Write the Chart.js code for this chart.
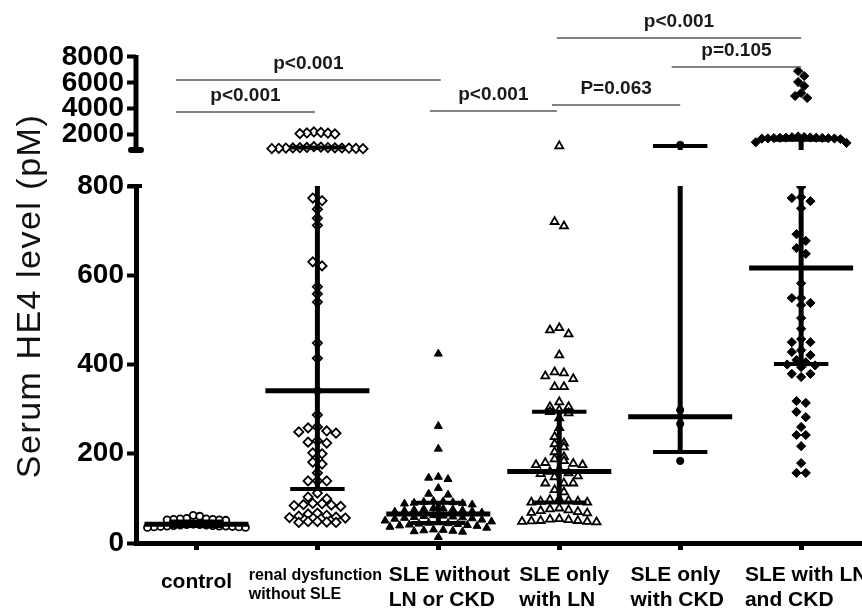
<!DOCTYPE html>
<html><head><meta charset="utf-8">
<script src="https://cdn.jsdelivr.net/npm/chart.js@4"></script>
<style>
html,body{margin:0;padding:0;background:#fff;overflow:hidden;}
#wrap{position:relative;width:868px;height:612px;}
</style></head>
<body><div id="wrap"><canvas id="c"></canvas></div>
<script>
// ---------- DATA ----------
const categories = [["control"],["renal dysfunction","without SLE"],["SLE without","LN or CKD"],["SLE only","with LN"],["SLE only","with CKD"],["SLE with LN","and CKD"]];
const lowerTicks = [0,200,400,600,800];
const upperTicks = [2000,4000,6000,8000];
const yTitle = "Serum HE4 level (pM)";

// values in the 0-800 segment (pM)
const controlLow = [62,60,55,54,54,53,53,52,52,51,42,41,41,40,40,39,39,38,38,38,37,37,36,36,35,35];
const renalLow = [773,767,748,728,712,630,621,574,558,540,448,414,341,287,260,258,251,249,246,229,226,224,202,200,181,177,157,139,139,139,112,103,99,89,88,86,85,84,82,67,65,62,60,58,57,56,48,48,47,46,46];
const sleNoLnLow = [424,262,211,148,146,143,123,110,108,94,93,92,91,90,89,88,86,78,77,76,75,74,73,72,71,70,68,62,61,60,59,58,57,56,55,54,52,50,48,46,45,44,43,42,41,40,39,38,36,34,30,29,28,27,26,25,13];
const sleLnLow = [720,710,482,477,468,421,383,381,374,368,350,350,316,305,305,298,294,291,280,258,238,224,222,215,204,193,188,184,180,178,175,175,165,160,157,155,150,148,134,134,134,119,114,99,97,95,93,93,91,91,78,76,74,72,70,68,67,54,53,52,50,50,49,48,48,47];
const sleCkdLow = [298,267,184];
const sleLnCkdLow = [798,775,773,766,750,692,677,661,648,582,549,549,538,533,504,480,457,450,450,432,428,421,410,405,400,398,394,379,379,372,318,314,294,282,260,242,242,217,179,157,157];

// values in the upper (800-8000) segment (pM)
const controlHigh = [];
const renalHigh = [2200,2160,2120,2100,2070,2040,1060,1020,1000,990,980,970,960,955,950,940,930,920,910,900];
const sleNoLnHigh = [];
const sleLnHigh = [1110];
const sleCkdHigh = [1200];
const sleLnCkdHigh = [6915,6528,6063,5754,5212,4980,4825,1850,1800,1790,1770,1760,1750,1740,1730,1720,1710,1700,1690,1680,1650,1400,1350];

// summary lines (central value and whiskers)
const centerLine = [42,341,65,160,283,616];
const lowerWhisker = [38,121,45,91,204,401];
const upperWhisker = [48,1000,90,294,1110,1600];

// significance comparisons
const pLabels = ["p<0.001","p<0.001","p<0.001","P=0.063","p=0.105","p<0.001"];
const pFrom = [-0.17,-0.17,1.93,2.94,3.93,2.98];
const pTo = [2.02,0.98,2.98,4.0,5.0,5.0];
const pLevel = [6218,3741,3819,4283,7224,9469];

// ---------- STYLE ----------
const FONT = "'Liberation Sans', Arial, Helvetica, sans-serif";
const lowGroups = [controlLow,renalLow,sleNoLnLow,sleLnLow,sleCkdLow,sleLnCkdLow];
const highGroups = [controlHigh,renalHigh,sleNoLnHigh,sleLnHigh,sleCkdHigh,sleLnCkdHigh];
const markers = [
  {style:'circle', r:3.5, fill:'#fff', bw:1.8},
  {style:'rectRot', r:4.6, fill:'#fff', bw:1.8},
  {style:'triangle', r:4.6, fill:'#000', bw:1},
  {style:'triangle', r:4.6, fill:'#fff', bw:1.8},
  {style:'circle', r:3.6, fill:'#000', bw:1},
  {style:'rectRot', r:4.6, fill:'#000', bw:1}
];
const lowSpacing = [0.054,0.077,0.08,0.077,0.077,0.077];
const highSpacing = [0.058,0.058,0.058,0.058,0.058,0.05];
const LOW_ROW = 16, HIGH_ROW = 650;
const BREAK = 800;
const LONG_HALF = 0.43, CAP_HALF = 0.225;
// x label layout (size, line height, first-line offset below the axis, horizontal nudge)
const labelStyle = [
  {size:21, lh:25, off:39, dx:0},
  {size:16, lh:19, off:33, dx:-2},
  {size:21, lh:25, off:32, dx:11},
  {size:21, lh:25, off:32, dx:5},
  {size:21, lh:25, off:32, dx:-3},
  {size:21, lh:25, off:32, dx:5}
];

function swarm(values, cat, threshold, spacing){
  const sorted = [...values].sort((a,b)=>b-a);
  const rows = []; let cur = null;
  for (const v of sorted){
    if (!cur || cur.start - v >= threshold){ cur = {start:v, vals:[]}; rows.push(cur); }
    cur.vals.push(v);
  }
  const pts = [];
  rows.forEach(r=>{
    const n = r.vals.length;
    const slots = [];
    for (let j=0;j<n;j++) slots.push(j-(n-1)/2);
    slots.sort((a,b)=>Math.abs(a)-Math.abs(b) || a-b);
    r.vals.forEach((v,k)=>pts.push({x:cat+slots[k]*spacing, y:v}));
  });
  return pts;
}

const datasets = [];
function seg(data, axis, width, color){
  datasets.push({type:'scatter', data, yAxisID:axis, showLine:true, borderColor:color||'#000',
    borderWidth:width, pointRadius:0, pointHoverRadius:0, fill:false, tension:0, order:1, borderCapStyle:'butt'});
}
categories.forEach((c,i)=>{
  const m = markers[i];
  [['y', swarm(lowGroups[i], i, LOW_ROW, lowSpacing[i])], ['y2', swarm(highGroups[i], i, HIGH_ROW, highSpacing[i])]].forEach(([ax,pts])=>{
    if (!pts.length) return;
    datasets.push({type:'scatter', data:pts, yAxisID:ax, showLine:false, pointStyle:m.style, pointRadius:m.r,
      pointHoverRadius:m.r, pointBackgroundColor:m.fill, pointBorderColor:'#000', pointBorderWidth:m.bw, order:2});
  });
  seg([{x:i-LONG_HALF,y:centerLine[i]},{x:i+LONG_HALF,y:centerLine[i]}],'y',5);
  seg([{x:i-CAP_HALF,y:lowerWhisker[i]},{x:i+CAP_HALF,y:lowerWhisker[i]}],'y',4);
  if (upperWhisker[i] <= BREAK){
    seg([{x:i,y:lowerWhisker[i]},{x:i,y:upperWhisker[i]}],'y',5);
    seg([{x:i-CAP_HALF,y:upperWhisker[i]},{x:i+CAP_HALF,y:upperWhisker[i]}],'y',4);
  } else {
    seg([{x:i,y:lowerWhisker[i]},{x:i,y:BREAK}],'y',5);
    seg([{x:i,y:BREAK},{x:i,y:upperWhisker[i]}],'y2',5);
    seg([{x:i-CAP_HALF,y:upperWhisker[i]},{x:i+CAP_HALF,y:upperWhisker[i]}],'y2',4);
  }
});
pLabels.forEach((l,k)=>{
  seg([{x:pFrom[k],y:pLevel[k]},{x:pTo[k],y:pLevel[k]}],'y2',1.6,'#5a5a5a');
});

const decorPlugin = {
  id:'decor',
  afterDraw(chart){
    const ctx = chart.ctx, xs = chart.scales.x, y = chart.scales.y, y2 = chart.scales.y2;
    const left = chart.chartArea.left, bottom = chart.chartArea.bottom;
    ctx.save();
    // upper axis line
    ctx.strokeStyle = '#000'; ctx.lineWidth = 5; ctx.lineCap = 'butt';
    ctx.beginPath(); ctx.moveTo(left, y2.getPixelForValue(BREAK)); ctx.lineTo(left, y2.getPixelForValue(upperTicks[upperTicks.length-1]) - 2); ctx.stroke();
    // break caps
    ctx.lineWidth = 6; ctx.lineCap = 'round';
    ctx.beginPath(); ctx.moveTo(left-5, y2.getPixelForValue(BREAK)); ctx.lineTo(left+5, y2.getPixelForValue(BREAK)); ctx.stroke();
    ctx.lineWidth = 4; ctx.lineCap = 'butt';
    ctx.beginPath(); ctx.moveTo(left-8, y.getPixelForValue(BREAK)); ctx.lineTo(left+6, y.getPixelForValue(BREAK)); ctx.stroke();
    // category labels: left-aligned lines, block centred under the tick
    ctx.fillStyle = '#000'; ctx.textBaseline = 'middle'; ctx.textAlign = 'left';
    categories.forEach((lines,i)=>{
      const st = labelStyle[i];
      ctx.font = 'bold ' + st.size + 'px ' + FONT;
      const w = Math.max(...lines.map(t=>ctx.measureText(t).width));
      const x0 = xs.getPixelForValue(i) - w/2 + st.dx;
      lines.forEach((t,k)=> ctx.fillText(t, x0, bottom + st.off + k*st.lh));
    });
    // p-values
    ctx.fillStyle = '#1a1a1a'; ctx.font = 'bold 19px ' + FONT;
    ctx.textAlign = 'center'; ctx.textBaseline = 'middle';
    pLabels.forEach((l,k)=>{
      ctx.fillText(l, xs.getPixelForValue((pFrom[k]+pTo[k])/2), y2.getPixelForValue(pLevel[k]) - 16);
    });
    // y title
    ctx.fillStyle = '#111'; ctx.font = '34px ' + FONT;
    try { ctx.letterSpacing = '1.5px'; } catch(e) {}
    ctx.translate(40, 296); ctx.rotate(-Math.PI/2);
    ctx.textAlign = 'center'; ctx.textBaseline = 'alphabetic';
    ctx.fillText(yTitle, 0, 0);
    ctx.restore();
  }
};

function noPad(s){ s.paddingTop = 0; s.paddingBottom = 0; s.paddingLeft = 0; s.paddingRight = 0; }
const tickFont = {family:FONT, size:28, weight:'bold'};
new Chart(document.getElementById('c'), {
  type:'scatter',
  data:{datasets},
  options:{
    responsive:true, maintainAspectRatio:false, animation:false,
    events:[],
    layout:{padding:{top:10,left:0,right:0,bottom:0}},
    plugins:{legend:{display:false}, tooltip:{enabled:false}},
    scales:{
      x:{type:'linear', min:-0.5, max:5.5,
        afterBuildTicks:s=>{ s.ticks = categories.map((c,i)=>({value:i})); },
        afterFit:s=>{ s.height = 69; noPad(s); },
        ticks:{display:false},
        grid:{display:true, drawOnChartArea:false, tickLength:7, tickWidth:5, color:'#000'},
        border:{display:true, width:5, color:'#000'}
      },
      y:{type:'linear', position:'left', stack:'v', stackWeight:357, weight:0, min:0, max:800,
        afterBuildTicks:s=>{ s.ticks = lowerTicks.map(v=>({value:v})); },
        afterFit:s=>{ s.width = 136; noPad(s); },
        ticks:{font:tickFont, color:'#000', padding:3, autoSkip:false, callback:v=>String(v)},
        grid:{drawOnChartArea:false, tickLength:9, tickWidth:4, color:'#000'},
        border:{display:true, width:5, color:'#000'}
      },
      y2:{type:'linear', position:'left', stack:'v', stackWeight:176, weight:1, min:-1986, max:11636,
        afterBuildTicks:s=>{ s.ticks = upperTicks.map(v=>({value:v})); },
        afterFit:s=>{ s.width = 136; noPad(s); },
        ticks:{font:tickFont, color:'#000', padding:3, autoSkip:false, callback:v=>String(v)},
        grid:{drawOnChartArea:false, tickLength:9, tickWidth:4, color:'#000'},
        border:{display:false}
      }
    }
  },
  plugins:[decorPlugin]
});
</script>
</body></html>
